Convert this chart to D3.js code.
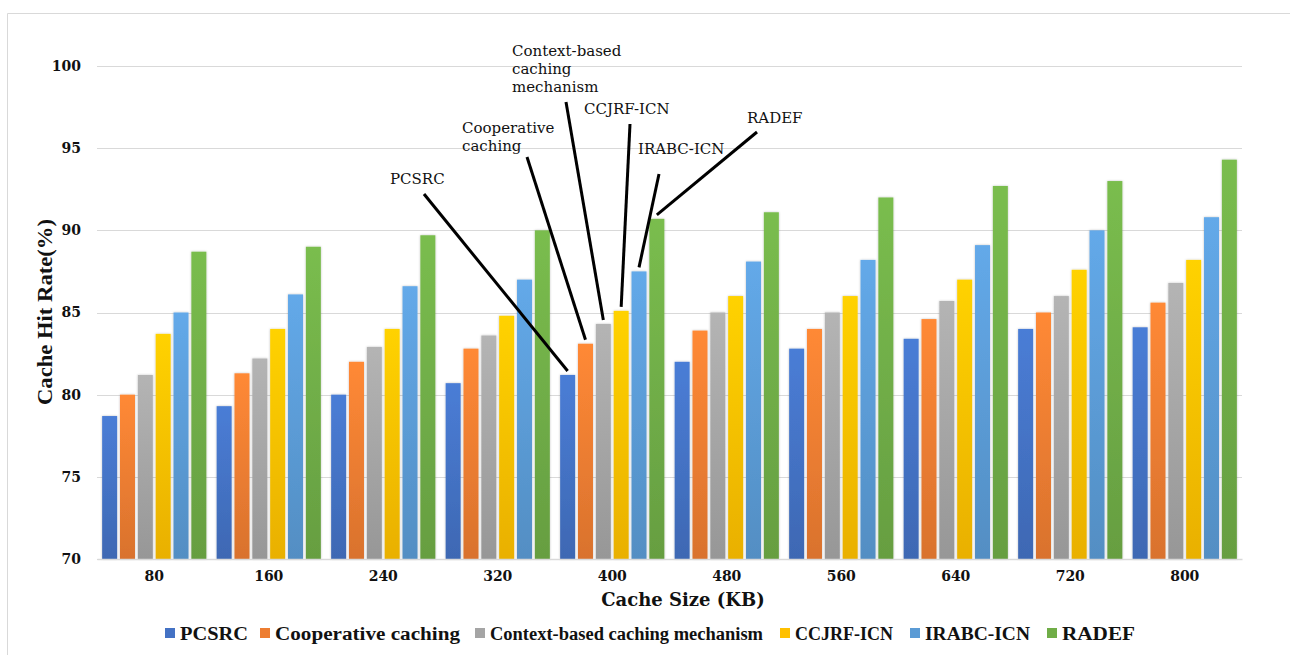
<!DOCTYPE html>
<html>
<head>
<meta charset="utf-8">
<script src="https://cdn.jsdelivr.net/npm/d3@7"></script>
<style>
  html, body { margin: 0; padding: 0; background: #fff; }
  svg { display: block; }
</style>
</head>
<body>
<svg id="chart" width="1295" height="655"></svg>
<script>
// Cache sizes (KB) on the x axis
const categories = ["80", "160", "240", "320", "400", "480", "560", "640", "720", "800"];
const seriesNames = ["PCSRC", "Cooperative caching", "Context-based caching mechanism", "CCJRF-ICN", "IRABC-ICN", "RADEF"];

// Cache hit rate (%) per scheme, one value per cache size
const pcsrc       = [78.7, 79.3, 80.0, 80.7, 81.2, 82.0, 82.8, 83.4, 84.0, 84.1];
const cooperative = [80.0, 81.3, 82.0, 82.8, 83.1, 83.9, 84.0, 84.6, 85.0, 85.6];
const contextBased= [81.2, 82.2, 82.9, 83.6, 84.3, 85.0, 85.0, 85.7, 86.0, 86.8];
const ccjrf       = [83.7, 84.0, 84.0, 84.8, 85.1, 86.0, 86.0, 87.0, 87.6, 88.2];
const irabc       = [85.0, 86.1, 86.6, 87.0, 87.5, 88.1, 88.2, 89.1, 90.0, 90.8];
const radef       = [88.7, 89.0, 89.7, 90.0, 90.7, 91.1, 92.0, 92.7, 93.0, 94.3];
const seriesValues = [pcsrc, cooperative, contextBased, ccjrf, irabc, radef];

const yTicks = [70, 75, 80, 85, 90, 95, 100];

const colors = ["#4472C4", "#ED7D31", "#A5A5A5", "#FFC000", "#5B9BD5", "#70AD47"];

// Callout labels pointing at the 400 KB group
const callouts = [
  { series: 0, lines: ["PCSRC"],                                  tx: 390, ty: 184, x1: 424, y1: 194 },
  { series: 1, lines: ["Cooperative", "caching"],                 tx: 462, ty: 133, x1: 527, y1: 157 },
  { series: 2, lines: ["Context-based", "caching", "mechanism"],  tx: 512, ty: 56,  x1: 566, y1: 102 },
  { series: 3, lines: ["CCJRF-ICN"],                              tx: 584, ty: 114, x1: 630, y1: 124 },
  { series: 4, lines: ["IRABC-ICN"],                              tx: 638, ty: 154, x1: 659, y1: 174 },
  { series: 5, lines: ["RADEF"],                                  tx: 747, ty: 123, x1: 757, y1: 132 }
];
const calloutCategory = "400";

const svg = d3.select("#chart");
const margin = { left: 97, right: 53, top: 66, bottom: 96 };
const W = 1295, H = 655;

// Outer frame (top and left edges)
svg.append("line").attr("x1", 7.5).attr("x2", 1290).attr("y1", 13.5).attr("y2", 13.5)
  .attr("stroke", "#d9d9d9").attr("stroke-width", 1);
svg.append("line").attr("x1", 7.5).attr("x2", 7.5).attr("y1", 13.5).attr("y2", 655)
  .attr("stroke", "#d9d9d9").attr("stroke-width", 1);

const x0 = d3.scaleBand().domain(categories)
  .range([margin.left, W - margin.right]).paddingInner(0.09).paddingOuter(0.045);
const x1 = d3.scaleBand().domain(d3.range(seriesNames.length))
  .range([0, x0.bandwidth()]).paddingInner(0.16).paddingOuter(0);
const y = d3.scaleLinear().domain([70, 100]).range([H - margin.bottom, margin.top]);

// Gradients: lighter at the top of each bar, deeper at the bottom
const defs = svg.append("defs");
colors.forEach((c, i) => {
  const g = defs.append("linearGradient").attr("id", "grad" + i)
    .attr("x1", 0).attr("y1", 0).attr("x2", 0).attr("y2", 1);
  g.append("stop").attr("offset", "0%").attr("stop-color", d3.color(c).brighter(0.25));
  g.append("stop").attr("offset", "100%").attr("stop-color", d3.color(c).darker(0.25));
});
const shadow = defs.append("filter").attr("id", "shadow")
  .attr("x", "-30%").attr("y", "-5%").attr("width", "160%").attr("height", "110%");
shadow.append("feDropShadow").attr("dx", 0).attr("dy", 0).attr("stdDeviation", 1.2)
  .attr("flood-color", "#000").attr("flood-opacity", 0.25);

// Gridlines and y tick labels
const yAxis = d3.axisLeft(y).tickValues(yTicks).tickSize(-(W - margin.left - margin.right)).tickPadding(16);
const yg = svg.append("g").attr("transform", `translate(${margin.left},0)`).call(yAxis);
yg.select(".domain").remove();
yg.selectAll(".tick line").attr("stroke", "#d9d9d9").attr("stroke-width", 1)
  .attr("shape-rendering", "crispEdges");
yg.selectAll(".tick text")
  .attr("font-family", "'DejaVu Serif', serif").attr("font-weight", "bold")
  .attr("font-size", 14).attr("fill", "#111");

// Bars
const groups = svg.append("g").selectAll("g").data(categories).join("g")
  .attr("transform", d => `translate(${x0(d)},0)`);
groups.selectAll("rect")
  .data((cat, ci) => seriesValues.map((vals, si) => ({ si, v: vals[ci] })))
  .join("rect")
  .attr("x", d => x1(d.si))
  .attr("width", x1.bandwidth())
  .attr("y", d => y(d.v))
  .attr("height", d => y(70) - y(d.v))
  .attr("fill", d => `url(#grad${d.si})`)
  .attr("filter", "url(#shadow)");

// x axis baseline and labels
const xAxis = d3.axisBottom(x0).tickSize(0).tickPadding(12);
const xg = svg.append("g").attr("transform", `translate(0,${y(70)})`).call(xAxis);
xg.select(".domain").attr("stroke", "#d9d9d9").attr("stroke-width", 1.5);
xg.selectAll(".tick text")
  .attr("font-family", "'DejaVu Serif', serif").attr("font-weight", "bold")
  .attr("font-size", 14).attr("fill", "#111");

// Axis titles
svg.append("text").attr("x", 683).attr("y", 606).attr("text-anchor", "middle")
  .attr("font-family", "'DejaVu Serif', serif").attr("font-weight", "bold")
  .attr("font-size", 18).attr("fill", "#111").text("Cache Size (KB)");

svg.append("text").attr("transform", "translate(52,312) rotate(-90)")
  .attr("text-anchor", "middle")
  .attr("font-family", "'Liberation Serif', serif").attr("font-weight", "bold")
  .attr("font-size", 21).attr("fill", "#111")
  .attr("textLength", 186).attr("lengthAdjust", "spacingAndGlyphs")
  .text("Cache Hit Rate(%)");

// Callouts
const cg = svg.append("g");
callouts.forEach(c => {
  const vals = seriesValues[c.series];
  const ci = categories.indexOf(calloutCategory);
  const tipX = x0(calloutCategory) + x1(c.series) + x1.bandwidth() / 2;
  const tipY = y(vals[ci]) - 4;
  cg.append("line").attr("x1", c.x1).attr("y1", c.y1).attr("x2", tipX).attr("y2", tipY)
    .attr("stroke", "#000").attr("stroke-width", 3);
  const t = cg.append("text").attr("x", c.tx).attr("y", c.ty)
    .attr("font-family", "'DejaVu Serif', serif").attr("font-size", 15).attr("fill", "#111");
  c.lines.forEach((ln, i) => {
    t.append("tspan").attr("x", c.tx).attr("dy", i === 0 ? 0 : 18).text(ln);
  });
});

// Legend: swatch position and text width for each entry
const legendItems = [
  { i: 0, x: 165, w: 68 }, { i: 1, x: 260, w: 185 }, { i: 2, x: 475, w: 273 },
  { i: 3, x: 780, w: 98 }, { i: 4, x: 910, w: 105 }, { i: 5, x: 1047, w: 73 }
];
const lg = svg.append("g");
legendItems.forEach(it => {
  lg.append("rect").attr("x", it.x).attr("y", 628).attr("width", 10).attr("height", 10)
    .attr("fill", colors[it.i]);
  lg.append("text").attr("x", it.x + 15).attr("y", 640)
    .attr("font-family", "'Liberation Serif', serif").attr("font-weight", "bold")
    .attr("font-size", 18.5).attr("fill", "#111")
    .attr("textLength", it.w).attr("lengthAdjust", "spacingAndGlyphs")
    .text(seriesNames[it.i]);
});
</script>
</body>
</html>
